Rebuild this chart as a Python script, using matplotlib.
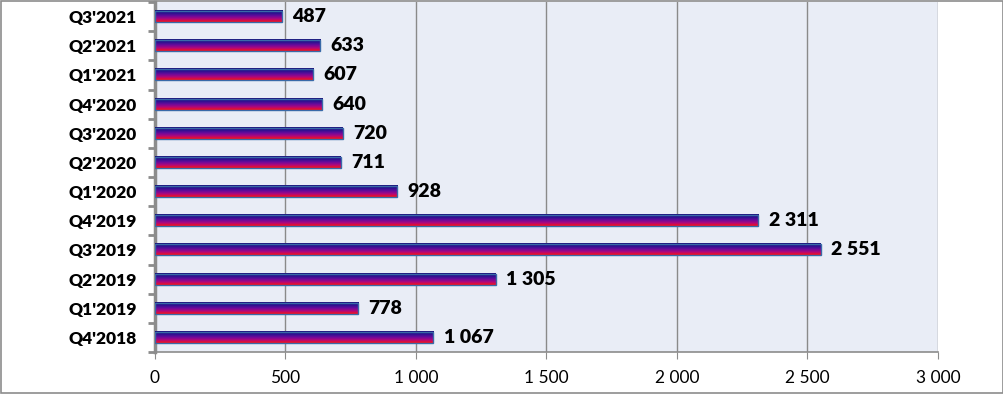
import matplotlib
matplotlib.use("Agg")
import matplotlib.pyplot as plt
import numpy as np
from matplotlib.colors import LinearSegmentedColormap
from matplotlib.patches import Rectangle
from matplotlib.ticker import FuncFormatter, FixedLocator

plt.rcParams['font.family'] = ['Lato', 'DejaVu Sans']

# ── data (bottom to top) ─────────────────────────────────────────────────────
quarters = ["Q4'2018", "Q1'2019", "Q2'2019", "Q3'2019", "Q4'2019", "Q1'2020",
            "Q2'2020", "Q3'2020", "Q4'2020", "Q1'2021", "Q2'2021", "Q3'2021"]
values = [1067, 778, 1305, 2551, 2311, 928, 711, 720, 640, 607, 633, 487]

BAR_H = 0.38
grad = LinearSegmentedColormap.from_list("bar", ["#ff1010", "#b0087c", "#6a0a9c", "#2a1290", "#181078"])

fig = plt.figure(figsize=(10.04, 3.94), dpi=100)
ax = fig.add_axes([155 / 1004, 42 / 394, (938 - 155) / 1004, (392 - 42) / 394])
ax.set_facecolor("#e9edf6")

ypos = np.arange(len(quarters))
g = np.linspace(0, 1, 64).reshape(-1, 1)
for y, v in zip(ypos, values):
    ax.imshow(g, cmap=grad, origin="lower", aspect="auto", zorder=3,
              extent=[0, v, y - BAR_H / 2, y + BAR_H / 2], interpolation="bilinear")
    ax.add_patch(Rectangle((0, y - BAR_H / 2), v, BAR_H, fill=False,
                           edgecolor="#3a6aa8", linewidth=1.0, zorder=4))
    ax.text(v + 40, y, f"{v:,}".replace(",", " "), va="center", ha="left",
            fontsize=14, fontweight="heavy", color="black", zorder=5)

ax.set_xlim(0, 3000)
ax.set_ylim(-0.5, len(quarters) - 0.5)
ax.set_xticks(np.arange(0, 3001, 500))
ax.xaxis.set_major_formatter(FuncFormatter(lambda x, p: f"{int(x):,}".replace(",", " ")))
ax.set_yticks(ypos)
ax.set_yticklabels(quarters, fontsize=12.5, fontweight="heavy")
ax.yaxis.set_minor_locator(FixedLocator(np.arange(-0.5, len(quarters), 1)))
ax.tick_params(axis="y", which="major", length=0, pad=13)
ax.tick_params(axis="y", which="minor", length=5, width=2, color="#8c8c8c")
ax.tick_params(axis="x", length=5, color="#8c8c8c", labelsize=12.5, pad=8)

ax.grid(axis="x", color="#8a8a8a", linewidth=1.0, zorder=1)
ax.set_axisbelow(True)
for s in ["top", "right"]:
    ax.spines[s].set_visible(False)
ax.spines["left"].set_color("#8c8c8c")
ax.spines["left"].set_linewidth(2.5)
ax.spines["bottom"].set_color("#8c8c8c")
ax.spines["bottom"].set_linewidth(1.2)

fig.patches.append(Rectangle((0.001, 0.002), 0.998, 0.996, transform=fig.transFigure,
                             fill=False, edgecolor="#8c8c8c", linewidth=1.2))

fig.savefig("out.png", dpi=100)
